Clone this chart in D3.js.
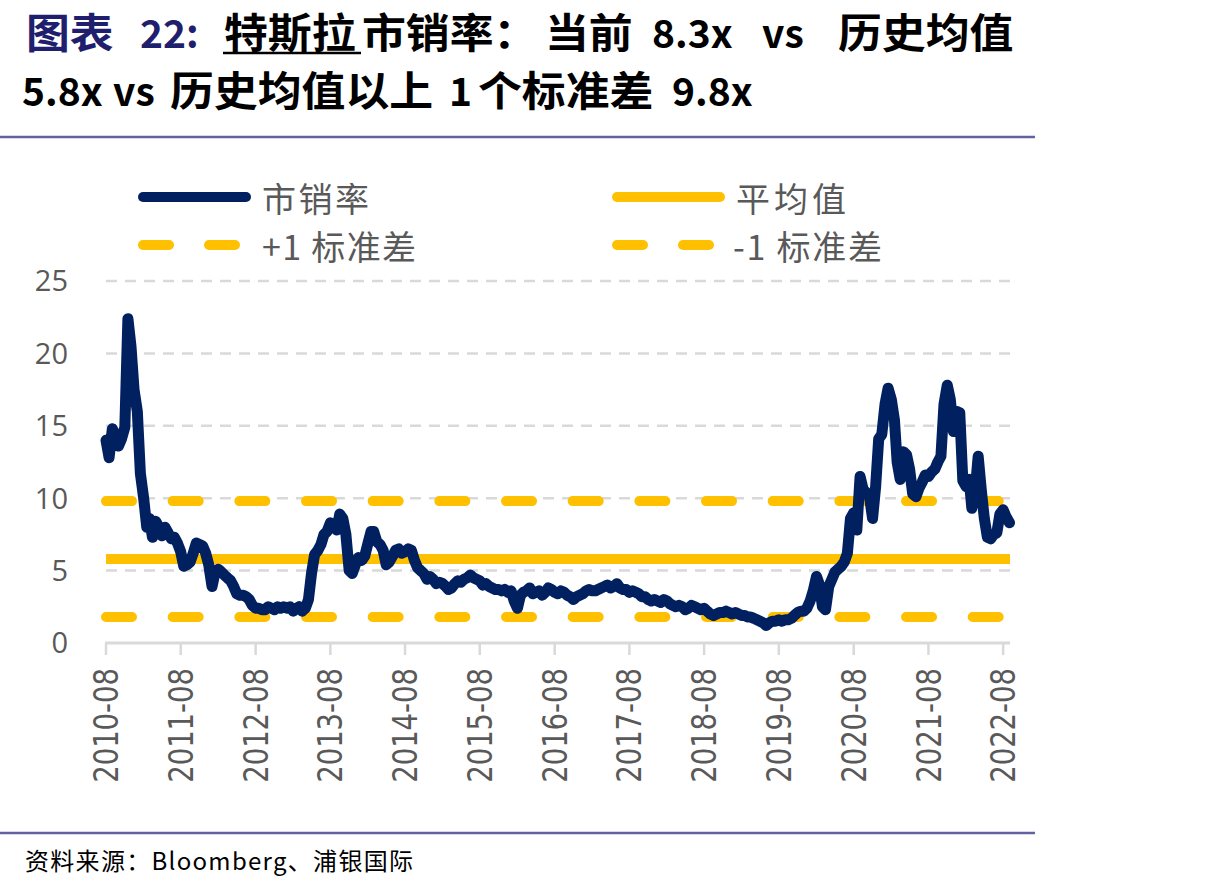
<!DOCTYPE html>
<html>
<head>
<meta charset="utf-8">
<script src="https://cdn.jsdelivr.net/npm/d3@7"></script>
<style>
  body { margin: 0; background: #fff; }
  svg { font-family: "Noto Sans CJK SC", sans-serif; }
  .grid line { stroke: #d9d9d9; stroke-width: 2.5; stroke-dasharray: 11 8; }
</style>
</head>
<body>
<div id="chart"></div>
<script>
var startDate = "2010-08-01";
var psValues = [
  14.0, 12.8, 14.8, 14.3, 13.6, 14.1, 14.9, 22.4, 20.5, 17.5,
  16.0, 11.7, 10.0, 8.0, 8.6, 7.3, 8.4, 8.0, 7.4, 8.0,
  7.6, 7.2, 7.3, 6.9, 6.3, 5.3, 5.4, 5.6, 6.2, 6.9,
  6.8, 6.7, 6.2, 5.4, 3.9, 4.9, 5.1, 4.9, 4.7, 4.5,
  4.3, 3.9, 3.4, 3.3, 3.3, 3.2, 3.0, 2.6, 2.4, 2.4,
  2.3, 2.3, 2.5, 2.4, 2.3, 2.5, 2.4, 2.5, 2.4, 2.5,
  2.2, 2.4, 2.5, 2.2, 2.4, 3.0, 4.8, 6.1, 6.4, 6.8,
  7.5, 7.7, 8.3, 8.1, 7.8, 8.9, 8.6, 7.5, 5.0, 4.8,
  5.4, 5.9, 5.7, 6.0, 6.9, 7.7, 7.7, 7.0, 6.8, 6.4,
  5.4, 5.6, 6.0, 6.4, 6.5, 6.2, 6.3, 6.5, 6.4, 5.7,
  5.2, 5.0, 4.8, 4.4, 4.6, 4.4, 4.1, 4.2, 4.1, 3.9,
  3.7, 3.8, 4.1, 4.3, 4.2, 4.4, 4.5, 4.7, 4.5, 4.4,
  4.3, 4.0, 4.1, 3.9, 3.8, 3.7, 3.7, 3.6, 3.7, 3.5,
  3.6, 2.9, 2.4, 3.3, 3.5, 3.6, 3.8, 3.4, 3.5, 3.6,
  3.3, 3.5, 3.8, 3.7, 3.5, 3.4, 3.6, 3.5, 3.3, 3.2,
  3.0, 3.2, 3.3, 3.4, 3.6, 3.7, 3.6, 3.6, 3.7, 3.8,
  3.9, 4.0, 3.8, 3.9, 4.1, 3.8, 3.7, 3.7, 3.5, 3.6,
  3.5, 3.4, 3.2, 3.2, 3.0, 2.9, 3.0, 2.9, 2.8, 3.0,
  2.9, 2.7, 2.6, 2.5, 2.6, 2.5, 2.3, 2.4, 2.6, 2.5,
  2.4, 2.3, 2.4, 2.2, 2.0, 1.9, 2.0, 2.1, 2.1, 2.2,
  2.1, 2.0, 2.1, 2.0, 1.9, 1.9, 1.8, 1.8, 1.7, 1.6,
  1.5, 1.4, 1.2, 1.4, 1.5, 1.5, 1.6, 1.5, 1.6, 1.6,
  1.7, 1.9, 2.1, 2.2, 2.2, 2.4, 2.9, 3.6, 4.6, 4.0,
  2.5, 2.3, 3.9, 4.4, 4.9, 5.1, 5.3, 5.6, 6.2, 8.6,
  9.0, 7.8, 11.5, 10.6, 10.4, 10.2, 8.6, 10.8, 14.1, 14.4,
  16.5, 17.6, 16.8, 15.4, 12.5, 11.3, 13.2, 13.0, 12.0, 10.3,
  10.1, 10.7, 11.1, 11.6, 11.5, 11.8, 12.0, 12.5, 12.9, 16.5,
  17.8, 16.8, 14.6, 16.0, 15.9, 11.2, 10.8, 11.3, 9.3, 10.3,
  12.9, 10.6, 8.6, 7.3, 7.2, 7.5, 7.6, 8.9, 9.2, 8.7,
  8.3
];
var meanPS = 5.8;
var plusOneSD = 9.8;
var minusOneSD = 1.8;
var xTickLabels = ["2010-08", "2011-08", "2012-08", "2013-08", "2014-08", "2015-08",
  "2016-08", "2017-08", "2018-08", "2019-08", "2020-08", "2021-08", "2022-08"];
var yTickValues = [0, 5, 10, 15, 20, 25];
var legendNames = ["市销率", "平均值", "+1 标准差", "-1 标准差"];

var width = 1207, height = 892;
var navy = "#002060", gold = "#FFC000", grey = "#595959", titleBlue = "#1f1f6e";

var parseDay = d3.timeParse("%Y-%m-%d");
var parseMonth = d3.timeParse("%Y-%m");
var start = parseDay(startDate);

var data = psValues.map(function(v, i) {
  var d = d3.timeMonth.offset(start, Math.floor(i / 2));
  if (i % 2) d = d3.timeDay.offset(d, 15);
  return {date: d, value: v};
});

/* Scales */
var x = d3.scaleTime()
  .domain([start, data[data.length - 1].date])
  .range([106, 1009.5]);
var y = d3.scaleLinear()
  .domain([0, 25])
  .range([643, 281]);

var svg = d3.select("#chart").append("svg")
  .attr("width", width)
  .attr("height", height);

/* Title: CJK runs 41px widened a little, latin runs 39px */
var title = svg.append("g").attr("font-weight", "bold").attr("fill", "#000");
var line1 = [
  {t: "图表", x: 26, c: titleBlue},
  {t: "22:", x: 140, c: titleBlue, latin: true},
  {t: "特斯拉", x: 224},
  {t: "市销率：", x: 362},
  {t: "当前", x: 545},
  {t: "8.3x", x: 652, latin: true},
  {t: "vs", x: 762, latin: true},
  {t: "历史均值", x: 838}
];
var line2 = [
  {t: "5.8x", x: 22, latin: true},
  {t: "vs", x: 113, latin: true},
  {t: "历史均值以上", x: 170},
  {t: "1", x: 449, latin: true},
  {t: "个标准差", x: 478},
  {t: "9.8x", x: 672, latin: true}
];
function titleLine(items, base) {
  items.forEach(function(s) {
    title.append("text")
      .attr("transform", "translate(" + s.x + "," + base + ")" + (s.latin ? "" : " scale(1.07,1)"))
      .attr("font-size", s.latin ? "39px" : "41px")
      .attr("fill", s.c || "#000")
      .text(s.t);
  });
}
titleLine(line1, 48);
titleLine(line2, 106);
title.append("line")
  .attr("x1", 223).attr("x2", 361)
  .attr("y1", 53).attr("y2", 53)
  .attr("stroke", "#000").attr("stroke-width", 2.5);

svg.append("line")
  .attr("x1", 0).attr("x2", 1035)
  .attr("y1", 137).attr("y2", 137)
  .attr("stroke", "#62629e").attr("stroke-width", 2.5);
svg.append("line")
  .attr("x1", 0).attr("x2", 1035)
  .attr("y1", 833).attr("y2", 833)
  .attr("stroke", "#62629e").attr("stroke-width", 2.5);

/* Legend */
var legend = svg.append("g").attr("font-size", "34px").attr("fill", grey);
var legendItems = [
  {name: legendNames[0], x: 138, y: 197, color: navy, dashed: false, tx: 262, tw: 107},
  {name: legendNames[1], x: 612, y: 197, color: gold, dashed: false, tx: 736, tw: 110},
  {name: legendNames[2], x: 138, y: 245, color: gold, dashed: true, tx: 262, tw: 154},
  {name: legendNames[3], x: 612, y: 245, color: gold, dashed: true, tx: 733, tw: 149}
];
legendItems.forEach(function(d) {
  if (d.dashed) {
    [0, 66].forEach(function(off) {
      legend.append("line")
        .attr("x1", d.x + 5 + off).attr("x2", d.x + 31 + off)
        .attr("y1", d.y).attr("y2", d.y)
        .attr("stroke", d.color).attr("stroke-width", 10)
        .attr("stroke-linecap", "round");
    });
  } else {
    legend.append("line")
      .attr("x1", d.x + 5).attr("x2", d.x + 108)
      .attr("y1", d.y).attr("y2", d.y)
      .attr("stroke", d.color).attr("stroke-width", 10)
      .attr("stroke-linecap", "round");
  }
  legend.append("text")
    .attr("x", d.tx)
    .attr("y", d.y)
    .attr("dominant-baseline", "central")
    .attr("textLength", d.tw)
    .attr("lengthAdjust", "spacing")
    .text(d.name);
});

/* Gridlines */
svg.append("g")
  .attr("class", "grid")
  .selectAll("line")
  .data(yTickValues.filter(function(v) { return v > 0; }))
  .enter().append("line")
  .attr("x1", x.range()[0]).attr("x2", 1010)
  .attr("y1", function(d) { return y(d); })
  .attr("y2", function(d) { return y(d); });

/* Y axis labels */
svg.append("g")
  .attr("font-family", "'Open Sans', sans-serif")
  .attr("font-size", "29px")
  .attr("fill", grey)
  .selectAll("text")
  .data(yTickValues)
  .enter().append("text")
  .attr("x", 68)
  .attr("y", function(d) { return y(d); })
  .attr("dy", "0.36em")
  .attr("text-anchor", "end")
  .text(function(d) { return d; });

/* X axis */
var tickDates = xTickLabels.map(function(s) { return parseMonth(s); });
var xAxis = svg.append("g");
xAxis.append("line")
  .attr("x1", x.range()[0] - 1).attr("x2", 1010)
  .attr("y1", y(0)).attr("y2", y(0))
  .attr("stroke", "#d9d9d9").attr("stroke-width", 3);
xAxis.selectAll(".tick")
  .data(tickDates)
  .enter().append("line")
  .attr("x1", function(d) { return x(d); })
  .attr("x2", function(d) { return x(d); })
  .attr("y1", y(0)).attr("y2", y(0) + 12)
  .attr("stroke", "#d9d9d9").attr("stroke-width", 2.5);
xAxis.selectAll("text")
  .data(tickDates)
  .enter().append("text")
  .attr("transform", function(d) { return "translate(" + x(d) + "," + 668 + ") rotate(-90) scale(1,1.22)"; })
  .attr("dy", "0.36em")
  .attr("text-anchor", "end")
  .attr("font-family", "'DejaVu Sans', sans-serif")
  .attr("font-size", "27.5px")
  .attr("fill", grey)
  .text(function(d, i) { return xTickLabels[i]; });

/* Mean and ±1 SD lines */
var x0 = x.range()[0], x1 = 1010;
svg.append("line")
  .attr("x1", x0).attr("x2", x1)
  .attr("y1", y(meanPS)).attr("y2", y(meanPS))
  .attr("stroke", gold).attr("stroke-width", 10);
[plusOneSD, minusOneSD].forEach(function(v) {
  svg.append("line")
    .attr("x1", x0).attr("x2", x1)
    .attr("y1", y(v)).attr("y2", y(v))
    .attr("stroke", gold).attr("stroke-width", 10)
    .attr("stroke-linecap", "round")
    .attr("stroke-dasharray", "26 40.67");
});

/* P/S series */
var line = d3.line()
  .x(function(d) { return x(d.date); })
  .y(function(d) { return y(d.value); });
svg.append("path")
  .datum(data)
  .attr("d", line)
  .attr("fill", "none")
  .attr("stroke", navy)
  .attr("stroke-width", 11)
  .attr("stroke-linejoin", "round")
  .attr("stroke-linecap", "round");

/* Source */
svg.append("text")
  .attr("x", 25)
  .attr("y", 870)
  .attr("font-size", "24px")
  .attr("fill", "#000")
  .attr("textLength", 388)
  .attr("lengthAdjust", "spacing")
  .text("资料来源：Bloomberg、浦银国际");
</script>
</body>
</html>
